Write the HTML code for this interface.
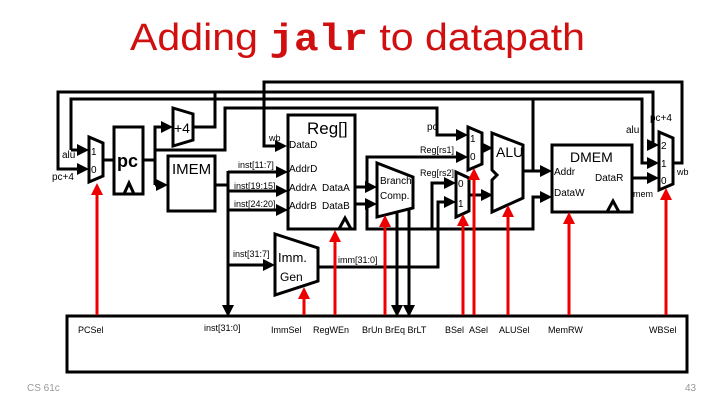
<!DOCTYPE html>
<html><head><meta charset="utf-8"><style>
html,body{margin:0;padding:0;background:#fff}
svg{display:block}
text{font-family:"Liberation Sans",sans-serif}
</style></head><body>
<svg width="720" height="405" viewBox="0 0 720 405" xmlns="http://www.w3.org/2000/svg">
<defs>
<marker id="a" markerWidth="4" markerHeight="4" refX="3" refY="2" orient="auto" markerUnits="strokeWidth"><path d="M0,0 L4,2 L0,4 z" fill="#000"/></marker>
<marker id="r" markerWidth="4" markerHeight="4" refX="3" refY="2" orient="auto" markerUnits="strokeWidth"><path d="M0,0 L4,2 L0,4 z" fill="#e00"/></marker>
</defs>
<text x="130" y="50" font-size="38" fill="#d01010" textLength="455" lengthAdjust="spacingAndGlyphs">Adding <tspan font-family="Liberation Mono" font-weight="bold">jalr</tspan> to datapath</text>

<g fill="none" stroke="#000" stroke-width="3">
<polyline points="673,163 682,163 682,82 264,82 264,146 284,146" marker-end="url(#a)"/>
<polyline points="193,127 215,127 215,92 58,92 58,169 86,169" marker-end="url(#a)"/>
<polyline points="215,92 653,92 653,145 656,145" marker-end="url(#a)"/>
<polyline points="71,150 71,99 642,99 642,163 656,163" marker-end="url(#a)"/>
<polyline points="71,150 86,150" marker-end="url(#a)"/>
<polyline points="155,150 225,150 225,108 437,108 437,135 465,135" marker-end="url(#a)"/>
<polyline points="103,160 114,160"/>
<polyline points="143,160 155,160"/>
<polyline points="155,185 155,127 170,127" marker-end="url(#a)"/>
<polyline points="155,185 165,185" marker-end="url(#a)"/>
<polyline points="215,185 228,185"/>
<polyline points="228,171 228,314" marker-end="url(#a)"/>
<polyline points="228,172 285,172" marker-end="url(#a)"/>
<polyline points="228,191 285,191" marker-end="url(#a)"/>
<polyline points="228,210 285,210" marker-end="url(#a)"/>
<polyline points="228,265 272,265" marker-end="url(#a)"/>
<polyline points="318,267 438,267 438,202 453,202" marker-end="url(#a)"/>
<polyline points="355,187 374,187" marker-end="url(#a)"/>
<polyline points="355,204 374,204" marker-end="url(#a)"/>
<polyline points="367,187 367,157 465,157" marker-end="url(#a)"/>
<polyline points="367,204 367,229 533,229 533,197 549,197" marker-end="url(#a)"/>
<polyline points="432,229 432,183 453,183" marker-end="url(#a)"/>
<polyline points="482,148 490,148" marker-end="url(#a)"/>
<polyline points="469,195 490,195" marker-end="url(#a)"/>
<polyline points="523,171 533,171 533,99"/>
<polyline points="533,171 549,171" marker-end="url(#a)"/>
<polyline points="632,178 656,178" marker-end="url(#a)"/>
<polyline points="397,212 397,314" marker-end="url(#a)"/>
<polyline points="409,209 409,314" marker-end="url(#a)"/>

<polygon points="89,137 103,143 103,176 89,182" fill="#fff"/>
<rect x="114" y="127" width="29" height="67" fill="#fff"/>
<polyline points="124,194 129,183 134,194"/>
<polygon points="173,108 193,114 193,140 173,146" fill="#fff"/>
<rect x="168" y="156" width="47" height="55" fill="#fff"/>
<rect x="288" y="115" width="67" height="114" fill="#fff"/>
<polyline points="339,229 345,218 351,229"/>
<polygon points="275,234 318,248 318,281 275,295" fill="#fff"/>
<polygon points="377,163 413,177 413,208 377,217" fill="#fff"/>
<polygon points="468,127 482,133 482,164 468,170" fill="#fff"/>
<polygon points="456,172 469,178 469,211 456,217" fill="#fff"/>
<polygon points="492,133 523,145 523,198 492,212 492,180 497,175 492,170" fill="#fff"/>
<rect x="552" y="145" width="80" height="67" fill="#fff"/>
<polyline points="607,212 613,201 619,212"/>
<polygon points="659,132 673,138 673,184 659,190" fill="#fff"/>
<rect x="67" y="316" width="620" height="56"/>
</g>

<g stroke="#e00" stroke-width="3" fill="none">
<line x1="97" y1="315" x2="97" y2="186" marker-end="url(#r)"/>
<line x1="304" y1="315" x2="304" y2="290" marker-end="url(#r)"/>
<line x1="335" y1="315" x2="335" y2="233" marker-end="url(#r)"/>
<line x1="385" y1="315" x2="385" y2="218" marker-end="url(#r)"/>
<line x1="463" y1="315" x2="463" y2="217" marker-end="url(#r)"/>
<line x1="474" y1="315" x2="474" y2="171" marker-end="url(#r)"/>
<line x1="508" y1="315" x2="508" y2="208" marker-end="url(#r)"/>
<line x1="569" y1="315" x2="569" y2="215" marker-end="url(#r)"/>
<line x1="666" y1="315" x2="666" y2="191" marker-end="url(#r)"/>
</g>

<g font-size="10" fill="#000">
<text x="62" y="158">alu</text>
<text x="52" y="180">pc+4</text>
<text x="91" y="155">1</text><text x="91" y="173">0</text>
<text x="117" y="167" font-family="Liberation Serif" font-weight="bold" font-size="18">pc</text>
<text x="174" y="133" font-size="14">+4</text>
<text x="172" y="174" font-size="15">IMEM</text>
<text x="307" y="134" font-size="17">Reg[]</text>
<text x="269" y="141" font-size="9">wb</text>
<text x="289" y="148">DataD</text>
<text x="289" y="172">AddrD</text>
<text x="289" y="191">AddrA</text>
<text x="289" y="209">AddrB</text>
<text x="322" y="191">DataA</text>
<text x="322" y="209">DataB</text>
<text x="238" y="168" font-size="9">inst[11:7]</text>
<text x="234" y="189" font-size="9">inst[19:15]</text>
<text x="234" y="207" font-size="9">inst[24:20]</text>
<text x="233" y="257" font-size="9">inst[31:7]</text>
<text x="278" y="262" font-size="13">Imm.</text>
<text x="280" y="281" font-size="12">Gen</text>
<text x="338" y="263" font-size="9">imm[31:0]</text>
<text x="380" y="184">Branch</text>
<text x="380" y="199">Comp.</text>
<text x="427" y="130">pc</text>
<text x="420" y="153" font-size="9">Reg[rs1]</text>
<text x="420" y="176" font-size="9">Reg[rs2]</text>
<text x="470" y="142">1</text><text x="470" y="160">0</text>
<text x="458" y="187">0</text><text x="458" y="207">1</text>
<text x="496" y="157" font-size="14">ALU</text>
<text x="570" y="162" font-size="14">DMEM</text>
<text x="554" y="175">Addr</text>
<text x="595" y="181">DataR</text>
<text x="554" y="196">DataW</text>
<text x="626" y="133">alu</text>
<text x="650" y="121">pc+4</text>
<text x="677" y="175" font-size="9">wb</text>
<text x="633" y="197" font-size="9">mem</text>
<text x="661" y="149">2</text><text x="661" y="167">1</text><text x="661" y="184">0</text>
</g>
<g font-size="9" fill="#000">
<text x="78" y="333">PCSel</text>
<text x="204" y="331">inst[31:0]</text>
<text x="271" y="333">ImmSel</text>
<text x="313" y="333">RegWEn</text>
<text x="362" y="333">BrUn BrEq BrLT</text>
<text x="445" y="333">BSel</text>
<text x="469" y="333">ASel</text>
<text x="499" y="333">ALUSel</text>
<text x="548" y="333">MemRW</text>
<text x="649" y="333">WBSel</text>
</g>
<text x="27" y="391" font-size="10" fill="#999">CS 61c</text>
<text x="685" y="391" font-size="10" fill="#999">43</text>
</svg>
</body></html>
